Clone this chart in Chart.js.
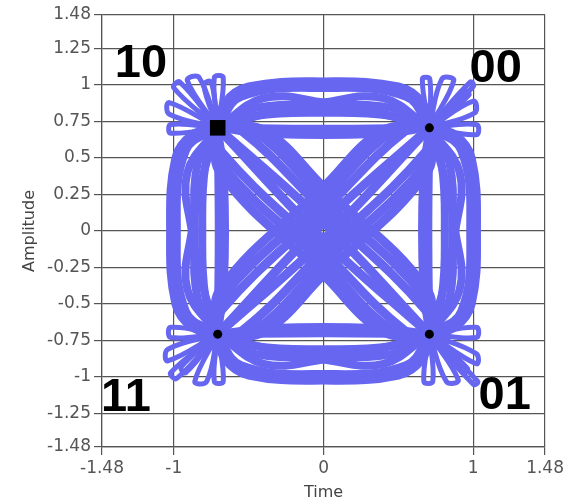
<!DOCTYPE html>
<html>
<head>
<meta charset="utf-8">
<title>QPSK constellation</title>
<script src="https://cdn.jsdelivr.net/npm/chart.js@4.4.1/dist/chart.umd.min.js"></script>
<style>
  html, body { margin: 0; padding: 0; background: #fff; }
  canvas { display: block; }
</style>
</head>
<body>
<canvas id="constellation" width="567" height="502"></canvas>
<script>
// axis ticks
const xTicks = [-1.48, -1, 0, 1, 1.48];
const xTickLabels = ['-1.48', '-1', '0', '1', '1.48'];
const yTicks = [-1.48, -1.25, -1, -0.75, -0.5, -0.25, 0, 0.25, 0.5, 0.75, 1, 1.25, 1.48];
const yTickLabels = ['-1.48', '-1.25', '-1', '-0.75', '-0.5', '-0.25', '0', '0.25', '0.5', '0.75', '1', '1.25', '1.48'];

// symbol points
const dotX = [0.707, 0.707, -0.707];
const dotY = [0.707, -0.707, -0.707];
const squareX = [-0.707];
const squareY = [0.707];

// symbol names and where they sit
const symbolNames = ['10', '00', '11', '01'];
const symbolNameX = [-1.22, 1.15, -1.32, 1.21];
const symbolNameY = [1.16, 1.12, -1.13, -1.12];

// trajectories as [time, amplitude] points
const topPaths = [
  [[-0.707, 0.707], [-0.66, 0.88], [-0.5, 0.99], [0, 1.025], [0.5, 0.99], [0.66, 0.88], [0.707, 0.707]],
  [[-0.707, 0.707], [-0.55, 0.92], [0, 0.98], [0.55, 0.92], [0.707, 0.707]],
  [[-0.707, 0.707], [-0.4, 0.91], [0, 0.88], [0.4, 0.8], [0.707, 0.707]],
  [[-0.707, 0.707], [-0.4, 0.8], [0, 0.88], [0.4, 0.91], [0.707, 0.707]],
  [[-0.707, 0.707], [-0.47, 0.84], [0, 0.86], [0.47, 0.84], [0.707, 0.707]],
  [[-0.707, 0.707], [-0.45, 0.79], [0, 0.81], [0.45, 0.79], [0.707, 0.707]],
  [[-0.707, 0.707], [0, 0.7], [0.707, 0.707]],
  [[-0.707, 0.707], [-0.35, 0.665], [0.35, 0.665], [0.707, 0.707]]
];
const bottomPaths = [
  [[-0.707, -0.707], [-0.66, -0.88], [-0.5, -0.99], [0, -1.025], [0.5, -0.99], [0.66, -0.88], [0.707, -0.707]],
  [[-0.707, -0.707], [-0.55, -0.92], [0, -0.98], [0.55, -0.92], [0.707, -0.707]],
  [[-0.707, -0.707], [-0.4, -0.91], [0, -0.88], [0.4, -0.8], [0.707, -0.707]],
  [[-0.707, -0.707], [-0.4, -0.8], [0, -0.88], [0.4, -0.91], [0.707, -0.707]],
  [[-0.707, -0.707], [-0.47, -0.84], [0, -0.86], [0.47, -0.84], [0.707, -0.707]],
  [[-0.707, -0.707], [-0.45, -0.79], [0, -0.81], [0.45, -0.79], [0.707, -0.707]],
  [[-0.707, -0.707], [0, -0.7], [0.707, -0.707]],
  [[-0.707, -0.707], [-0.35, -0.665], [0.35, -0.665], [0.707, -0.707]]
];
const leftPaths = [
  [[-0.707, 0.707], [-0.88, 0.66], [-0.99, 0.5], [-1.025, 0], [-0.99, -0.5], [-0.88, -0.66], [-0.707, -0.707]],
  [[-0.707, 0.707], [-0.92, 0.55], [-0.98, 0], [-0.92, -0.55], [-0.707, -0.707]],
  [[-0.707, 0.707], [-0.91, 0.4], [-0.88, 0], [-0.8, -0.4], [-0.707, -0.707]],
  [[-0.707, 0.707], [-0.8, 0.4], [-0.88, 0], [-0.91, -0.4], [-0.707, -0.707]],
  [[-0.707, 0.707], [-0.84, 0.47], [-0.86, 0], [-0.84, -0.47], [-0.707, -0.707]],
  [[-0.707, 0.707], [-0.79, 0.45], [-0.81, 0], [-0.79, -0.45], [-0.707, -0.707]],
  [[-0.707, 0.707], [-0.7, 0], [-0.707, -0.707]],
  [[-0.707, 0.707], [-0.665, 0.35], [-0.665, -0.35], [-0.707, -0.707]]
];
const rightPaths = [
  [[0.707, 0.707], [0.88, 0.66], [0.99, 0.5], [1.025, 0], [0.99, -0.5], [0.88, -0.66], [0.707, -0.707]],
  [[0.707, 0.707], [0.92, 0.55], [0.98, 0], [0.92, -0.55], [0.707, -0.707]],
  [[0.707, 0.707], [0.91, 0.4], [0.88, 0], [0.8, -0.4], [0.707, -0.707]],
  [[0.707, 0.707], [0.8, 0.4], [0.88, 0], [0.91, -0.4], [0.707, -0.707]],
  [[0.707, 0.707], [0.84, 0.47], [0.86, 0], [0.84, -0.47], [0.707, -0.707]],
  [[0.707, 0.707], [0.79, 0.45], [0.81, 0], [0.79, -0.45], [0.707, -0.707]],
  [[0.707, 0.707], [0.7, 0], [0.707, -0.707]],
  [[0.707, 0.707], [0.665, 0.35], [0.665, -0.35], [0.707, -0.707]]
];
// 10 -> 01
const diagDownPaths = [
  [[-0.707, 0.707], [-0.4, 0.69], [0, 0.3], [0.69, -0.4], [0.707, -0.707]],
  [[-0.707, 0.707], [-0.47, 0.69], [0, 0.22], [0.69, -0.47], [0.707, -0.707]],
  [[-0.707, 0.707], [-0.54, 0.68], [0, 0.14], [0.68, -0.54], [0.707, -0.707]],
  [[-0.707, 0.707], [0, 0.06], [0.707, -0.707]],
  [[-0.707, 0.707], [0, -0.06], [0.707, -0.707]],
  [[-0.707, 0.707], [-0.68, 0.54], [0, -0.14], [0.54, -0.68], [0.707, -0.707]],
  [[-0.707, 0.707], [-0.69, 0.47], [0, -0.22], [0.47, -0.69], [0.707, -0.707]],
  [[-0.707, 0.707], [-0.69, 0.4], [0, -0.3], [0.4, -0.69], [0.707, -0.707]]
];
// 00 -> 11
const diagUpPaths = [
  [[0.707, 0.707], [0.4, 0.69], [0, 0.3], [-0.69, -0.4], [-0.707, -0.707]],
  [[0.707, 0.707], [0.47, 0.69], [0, 0.22], [-0.69, -0.47], [-0.707, -0.707]],
  [[0.707, 0.707], [0.54, 0.68], [0, 0.14], [-0.68, -0.54], [-0.707, -0.707]],
  [[0.707, 0.707], [0, 0.06], [-0.707, -0.707]],
  [[0.707, 0.707], [0, -0.06], [-0.707, -0.707]],
  [[0.707, 0.707], [0.68, 0.54], [0, -0.14], [-0.54, -0.68], [-0.707, -0.707]],
  [[0.707, 0.707], [0.69, 0.47], [0, -0.22], [-0.47, -0.69], [-0.707, -0.707]],
  [[0.707, 0.707], [0.69, 0.4], [0, -0.3], [-0.4, -0.69], [-0.707, -0.707]]
];
// small overshoot loops round each symbol
const petals10 = [
  [[-0.707, 0.707], [-0.73, 1.05], [-0.67, 1.05], [-0.707, 0.707]],
  [[-0.707, 0.707], [-0.91, 1.03], [-0.83, 1.05], [-0.707, 0.707]],
  [[-0.707, 0.707], [-1.0, 0.98], [-0.96, 1.02], [-0.707, 0.707]],
  [[-0.707, 0.707], [-1.03, 0.88], [-1.03, 0.8], [-0.707, 0.707]],
  [[-0.707, 0.707], [-1.02, 0.73], [-1.02, 0.67], [-0.707, 0.707]],
  [[-0.707, 0.707], [-0.8, 1.0], [-0.75, 1.02], [-0.707, 0.707]]
];
const petals00 = [
  [[0.707, 0.707], [0.66, 1.04], [0.71, 1.04], [0.707, 0.707]],
  [[0.707, 0.707], [0.79, 1.04], [0.87, 1.03], [0.707, 0.707]],
  [[0.707, 0.707], [0.98, 1.02], [1.0, 0.99], [0.707, 0.707]],
  [[0.707, 0.707], [1.0, 0.89], [1.01, 0.81], [0.707, 0.707]],
  [[0.707, 0.707], [1.02, 0.73], [1.02, 0.66], [0.707, 0.707]],
  [[0.707, 0.707], [0.94, 0.96], [0.97, 0.93], [0.707, 0.707]]
];
const petals11 = [
  [[-0.707, -0.707], [-0.73, -1.03], [-0.67, -1.03], [-0.707, -0.707]],
  [[-0.707, -0.707], [-0.86, -1.03], [-0.78, -1.03], [-0.707, -0.707]],
  [[-0.707, -0.707], [-1.02, -0.97], [-0.98, -1.01], [-0.707, -0.707]],
  [[-0.707, -0.707], [-1.04, -0.89], [-1.04, -0.81], [-0.707, -0.707]],
  [[-0.707, -0.707], [-1.02, -0.73], [-1.02, -0.66], [-0.707, -0.707]],
  [[-0.707, -0.707], [-0.95, -0.93], [-0.92, -0.97], [-0.707, -0.707]]
];
const petals01 = [
  [[0.707, -0.707], [0.67, -1.03], [0.73, -1.03], [0.707, -0.707]],
  [[0.707, -0.707], [0.82, -1.03], [0.9, -1.02], [0.707, -0.707]],
  [[0.707, -0.707], [1.0, -1.05], [1.03, -1.03], [0.707, -0.707]],
  [[0.707, -0.707], [1.02, -0.91], [1.02, -0.84], [0.707, -0.707]],
  [[0.707, -0.707], [1.02, -0.73], [1.02, -0.66], [0.707, -0.707]],
  [[0.707, -0.707], [0.93, -0.97], [0.96, -0.94], [0.707, -0.707]]
];

const traceColor = 'rgb(102, 102, 240)';
const tickFont = { family: '"DejaVu Sans", sans-serif', size: 17 };
const titleFont = { family: '"DejaVu Sans", sans-serif', size: 16 };

function pathDataset(path, width) {
    return {
        data: path.map(p => ({ x: p[0], y: p[1] })),
        showLine: true,
        borderColor: traceColor,
        backgroundColor: traceColor,
        borderWidth: width,
        borderCapStyle: 'round',
        borderJoinStyle: 'round',
        tension: 0.4,
        pointRadius: 0,
        order: 2
    };
}

const datasets = [];
// symbols drawn on top
datasets.push({
    data: dotX.map((x, i) => ({ x: x, y: dotY[i] })),
    pointStyle: 'circle',
    pointRadius: 4.5,
    backgroundColor: '#000',
    borderColor: '#000',
    borderWidth: 0,
    order: 0
});
datasets.push({
    data: squareX.map((x, i) => ({ x: x, y: squareY[i] })),
    pointStyle: 'rect',
    pointRadius: 11,
    backgroundColor: '#000',
    borderColor: '#000',
    borderWidth: 0,
    order: 0
});

[topPaths, bottomPaths, leftPaths, rightPaths].forEach(group => {
    group.forEach(p => datasets.push(pathDataset(p, 8)));
});
[diagDownPaths, diagUpPaths].forEach(group => {
    group.forEach(p => datasets.push(pathDataset(p, 9)));
});
[petals10, petals00, petals11, petals01].forEach(group => {
    group.forEach(p => datasets.push(pathDataset(p, 5)));
});

const symbolNamePlugin = {
    id: 'symbolNames',
    afterDatasetsDraw(chart) {
        const ctx = chart.ctx;
        const xs = chart.scales.x;
        const ys = chart.scales.y;
        ctx.save();
        ctx.font = 'bold 47px "Liberation Sans", Arial, sans-serif';
        ctx.fillStyle = '#000';
        ctx.textAlign = 'center';
        ctx.textBaseline = 'middle';
        symbolNames.forEach((name, i) => {
            ctx.fillText(name, xs.getPixelForValue(symbolNameX[i]), ys.getPixelForValue(symbolNameY[i]) + 2);
        });
        ctx.restore();
    }
};

const ctx = document.getElementById('constellation').getContext('2d');
new Chart(ctx, {
    type: 'scatter',
    data: { datasets: datasets },
    options: {
        responsive: false,
        animation: false,
        devicePixelRatio: 1,
        layout: { padding: { top: 15, right: 21, left: 0, bottom: 0 } },
        plugins: {
            legend: { display: false },
            tooltip: { enabled: false }
        },
        scales: {
            x: {
                type: 'linear',
                min: -1.48,
                max: 1.48,
                afterBuildTicks: scale => { scale.ticks = xTicks.map(v => ({ value: v })); },
                afterFit: scale => { scale.height = 55; },
                ticks: {
                    callback: (v, i) => xTickLabels[i],
                    font: tickFont,
                    color: '#555',
                    padding: 3,
                    maxRotation: 0,
                    autoSkip: false
                },
                grid: { color: '#555', lineWidth: 1.2, tickLength: 8 },
                border: { color: '#555', width: 1.2 },
                title: { display: true, text: 'Time', font: titleFont, color: '#444', padding: { top: 0, bottom: 0 } }
            },
            y: {
                type: 'linear',
                min: -1.48,
                max: 1.48,
                afterBuildTicks: scale => { scale.ticks = yTicks.map(v => ({ value: v })); },
                afterFit: scale => { scale.width = 102; },
                ticks: {
                    callback: (v, i) => yTickLabels[i],
                    font: tickFont,
                    color: '#555',
                    padding: 3,
                    autoSkip: false
                },
                grid: { color: '#555', lineWidth: 1.2, tickLength: 8 },
                border: { color: '#555', width: 1.2 },
                title: { display: true, text: 'Amplitude', font: titleFont, color: '#444', padding: { top: 20, bottom: 0 } }
            }
        }
    },
    plugins: [symbolNamePlugin]
});
</script>
</body>
</html>
